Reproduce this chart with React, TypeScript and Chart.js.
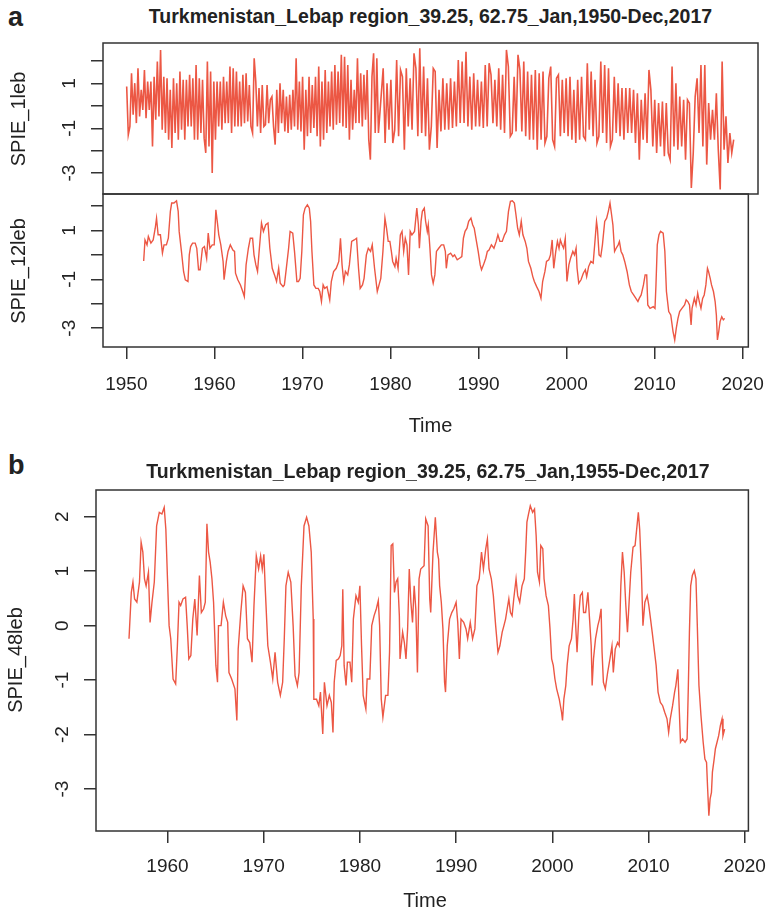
import React, { useEffect, useRef } from 'react';
import { Chart, registerables } from 'chart.js';

Chart.register(...registerables);

const FONT = '"Liberation Sans", Arial, Helvetica, sans-serif';
const INK = '#222222';
const AXIS = '#333333';
const LINE = '#EC5744';

// ---------- SPIE_1 (monthly noise, read as alternating stroke ends) ----------
const spie1EarlyStart = 1950.0;
const spie1EarlyEnd = 1978.17;
const spie1Early = [
  0.86, -1.29, -0.92, 1.45, -0.4, 1.01, -0.77, 1.67, -0.47, 0.71,
  -0.18, 1.6, -0.55, 1.08, -0.18, 1.08, -1.81, 1.3, -0.62, 1.97,
  -0.47, 2.49, -1.07, 1.3, -1.21, 1.23, -1.51, 0.71, -1.88, 1.23,
  -1.21, 1.01, -1.51, 1.53, -1.07, 1.16, -1.51, 1.16, -0.92, 1.38,
  -0.92, 1.23, -1.51, 1.82, -1.51, 1.23, -1.21, 1.16, -1.44, -2.1,
  1.97, -1.81, 1.53, -2.99, 1.08, -1.51, 1.08, -0.92, 1.08, -1.07,
  1.3, -0.77, 1.08, -0.77, 1.75, -1.21, 1.67, -0.92, 1.53, -0.92,
  1.08, -0.92, 1.38, -0.77, 1.45, -0.7, 0.93, -0.92, -1.21, 2.12,
  1.08, -0.92, 0.79, -1.21, 0.93, -0.92, -0.84, 0.93, -0.77, 0.27,
  0.41, -0.92, -1.73, 0.71, -1.21, 1.01, -0.77, 0.71, -1.14, 0.41,
  -1.21, 0.49, -1.07, 0.71, -0.92, 2.12, -1.07, 1.08, -1.14, 1.3,
  -1.96, 0.71, -1.36, 1.3, -1.21, 0.93, -0.99, 1.3, -1.36, 1.75,
  -1.81, 1.08, -1.51, 1.6, -1.21, 1.08, -0.92, 1.53, -1.07, 1.82,
  -0.84, 1.53, -0.77, 2.27, -0.92, 2.19, -0.99, 1.82, -1.51, 1.16,
  -1.07, 0.71, -0.77, 2.12, -0.77, 1.45, -0.92, 1.38, -0.62, 1.6,
  -1.51, -2.4, 1.3, 2.34, -1.21, 2.12, -1.21,
];
const spie1LateStart = 1978.7;
const spie1LateEnd = 2017.92;
const spie1Late = [
  1.67, -1.66, 1.01, -1.07, 1.16, -1.66, -1.07, 2.04, -1.36, 1.6,
  1.3, -1.96, 1.67, -0.92, 1.23, -1.07, 2.34, 1.67, -1.36, 2.56,
  -1.21, 1.75, -1.36, 1.23, -1.96, -0.92, 1.67, 1.53, -1.88, 0.71,
  -1.14, 1.23, -1.07, 1.01, -1.07, 1.23, -0.99, 1.08, -0.92, 2.04,
  -0.77, 1.97, -0.77, 2.41, -0.92, 1.3, -1.07, 1.45, -0.92, 1.16,
  -0.92, 1.08, -0.99, 1.82, -0.92, 1.9, 1.38, -0.77, 1.16, -0.92,
  1.67, -1.07, 1.38, -1.21, 2.49, 1.75, -1.36, -1.21, 1.3, -1.14,
  2.27, 1.6, -1.14, 1.97, -1.36, 1.53, -1.51, 1.38, -1.51, 1.6,
  -1.96, 1.45, -1.51, 1.53, -1.66, -1.36, 1.23, 1.75, -1.51, -1.81,
  1.23, 1.38, -1.36, 1.16, -1.21, 1.23, -1.36, 1.3, -1.51, 0.71,
  -1.66, 1.16, -1.51, 1.3, -1.36, -1.51, 1.9, -1.07, 1.53, -1.36,
  1.16, -1.66, -1.36, 1.97, -1.21, 1.82, -1.66, 1.67, -1.81, -1.51,
  1.3, -1.21, 1.01, -1.36, 0.79, -1.51, 0.79, -1.21, 0.79, -1.21,
  0.71, -1.66, 0.56, -2.4, 0.27, -1.51, 0.56, -1.66, 1.6, 0.71,
  -1.81, 0.27, -2.1, 0.12, -1.81, 0.19, -2.25, 0.12, -2.1, -2.4,
  1.75, -1.81, 1.01, -1.96, 0.41, -1.81, 0.27, -2.4, 0.27, 0.12,
  -3.66, -2.1, 0.41, 1.23, -1.21, 1.82, -1.81, 1.82, -2.62, 0.12,
  -1.51, -0.18, -1.51, 0.56, -1.96, -3.73, 1.97, -1.96, -0.47, -2.55,
  -1.21, -2.1, -1.51,
];

// ---------- SPIE_12 ----------
const spie12Years = [
  1951.97, 1952.12, 1952.35, 1952.5, 1952.79, 1953.05, 1953.28, 1953.43, 1953.61, 1953.87,
  1954.1, 1954.28, 1954.55, 1954.77, 1955.0, 1955.15, 1955.41, 1955.7, 1955.89, 1956.0,
  1956.26, 1956.5, 1956.7, 1957.0, 1957.15, 1957.3, 1957.52, 1957.82, 1958.0, 1958.2,
  1958.38, 1958.64, 1958.87, 1959.12, 1959.3, 1959.49, 1959.76, 1959.98, 1960.17, 1960.35,
  1960.5, 1960.73, 1960.99, 1961.1, 1961.36, 1961.55, 1961.81, 1962.1, 1962.29, 1962.4,
  1962.66, 1962.96, 1963.22, 1963.4, 1963.6, 1963.86, 1964.08, 1964.34, 1964.5, 1964.71,
  1964.9, 1965.08, 1965.35, 1965.57, 1965.83, 1966.09, 1966.3, 1966.57, 1966.83, 1967.06,
  1967.3, 1967.48, 1967.8, 1967.95, 1968.17, 1968.43, 1968.6, 1968.9, 1969.1, 1969.37,
  1969.55, 1969.74, 1969.93, 1970.11, 1970.3, 1970.56, 1970.78, 1970.93, 1971.08, 1971.3,
  1971.53, 1971.79, 1971.97, 1972.16, 1972.35, 1972.53, 1972.79, 1973.1, 1973.28, 1973.54,
  1973.84, 1974.13, 1974.32, 1974.5, 1974.69, 1974.88, 1975.14, 1975.33, 1975.59, 1975.88,
  1976.15, 1976.37, 1976.56, 1976.82, 1977.0, 1977.26, 1977.48, 1977.74, 1977.93, 1978.19,
  1978.5, 1978.7, 1978.9, 1979.14, 1979.37, 1979.55, 1979.74, 1979.93, 1980.1, 1980.25,
  1980.5, 1980.64, 1980.86, 1981.12, 1981.31, 1981.5, 1981.68, 1981.87, 1982.05, 1982.24,
  1982.43, 1982.73, 1982.99, 1983.17, 1983.28, 1983.47, 1983.62, 1983.84, 1983.99, 1984.18,
  1984.29, 1984.48, 1984.66, 1984.85, 1985.04, 1985.22, 1985.48, 1985.78, 1986.04, 1986.23,
  1986.34, 1986.53, 1986.83, 1987.09, 1987.28, 1987.58, 1987.84, 1988.1, 1988.28, 1988.47,
  1988.69, 1988.88, 1989.14, 1989.33, 1989.51, 1989.7, 1989.96, 1990.19, 1990.34, 1990.56,
  1990.82, 1991.0, 1991.19, 1991.46, 1991.75, 1992.01, 1992.2, 1992.43, 1992.69, 1992.95,
  1993.17, 1993.4, 1993.62, 1993.84, 1994.07, 1994.25, 1994.44, 1994.63, 1994.85, 1995.04,
  1995.3, 1995.49, 1995.67, 1995.94, 1996.16, 1996.34, 1996.6, 1996.87, 1997.09, 1997.28,
  1997.54, 1997.72, 1997.98, 1998.17, 1998.36, 1998.54, 1998.77, 1998.96, 1999.14, 1999.29,
  1999.48, 1999.66, 1999.85, 2000.04, 2000.26, 2000.45, 2000.71, 2000.9, 2001.08, 2001.19,
  2001.38, 2001.64, 2001.9, 2002.13, 2002.28, 2002.5, 2002.76, 2003.02, 2003.25, 2003.4,
  2003.5, 2003.69, 2003.88, 2004.07, 2004.33, 2004.55, 2004.74, 2004.93, 2005.11, 2005.26,
  2005.45, 2005.63, 2005.86, 2006.0, 2006.19, 2006.38, 2006.6, 2006.87, 2007.13, 2007.35,
  2007.61, 2007.87, 2008.1, 2008.25, 2008.47, 2008.73, 2008.92, 2009.1, 2009.22, 2009.48,
  2009.85, 2010.04, 2010.15, 2010.3, 2010.49, 2010.67, 2010.97, 2011.16, 2011.34, 2011.6,
  2011.83, 2012.09, 2012.28, 2012.46, 2012.65, 2012.84, 2013.1, 2013.4, 2013.58, 2013.77,
  2013.96, 2014.14, 2014.25, 2014.51, 2014.7, 2014.89, 2015.07, 2015.26, 2015.45, 2015.63,
  2015.82, 2016.0, 2016.12, 2016.31, 2016.46, 2016.68, 2016.87, 2017.01, 2017.13, 2017.28,
  2017.43, 2017.62, 2017.8, 2017.95,
];
const spie12Values = [
  -0.25, 0.61, 0.41, 0.75, 0.48, 0.61, 1.09, 1.5, 0.82, 0.82,
  0.07, 0.41, 0.41, 0.68, 1.78, 2.12, 2.12, 2.21, 1.78, 0.96,
  0.14, -0.68, -1.02, -1.09, 0, 0.34, 0.48, 0.48, 0.27, -0.61,
  -0.61, 0.27, 0.34, -0.14, 0.89, 0.27, 0.41, 0.41, 1.84, 1.3,
  0.82, 0.41, -0.27, -1.02, -0.27, 0.14, 0.41, 0.2, 0.14, -0.75,
  -1.02, -1.23, -1.5, -1.71, -0.41, 0.27, 0.68, 0.68, 0, -0.41,
  -0.68, 0.14, 1.3, 0.96, 1.23, 1.3, 0.27, -0.55, -0.82, -1.09,
  -0.55, -1.16, -1.3, -1.23, -0.55, 0.27, 0.96, 0.89, 0.14, -1.09,
  -1.09, -0.96, 0.14, 1.64, 1.91, 2.05, 1.91, 1.37, 0.14, -1.23,
  -1.37, -1.37, -1.5, -1.91, -1.23, -1.37, -1.3, -1.84, -1.09, -0.68,
  -0.55, -0.27, 0.68, -0.41, -1.09, -0.68, -0.82, -0.41, 0.55, 0.61,
  0.68, -0.55, -1.37, -1.23, -0.96, 0, 0.27, 0.14, 0.41, -0.55,
  -1.5, -1.23, -0.96, 0.14, 1.5, 1.09, 0.55, 0.55, 0.14, -0.27,
  -0.48, -0.14, -0.55, 0.82, 0.96, 0.14, 0.68, 0.41, -0.82, 0.96,
  0.82, 0.96, 1.91, 1.23, 0.27, 1.37, 1.78, 1.91, 1.37, 0.96,
  1.23, 0.27, -0.82, -1.16, -0.82, 0.14, 0.27, 0.41, 0.41, 0.14,
  -0.55, 0, 0.07, -0.07, 0, -0.2, -0.14, -0.07, 0.68, 0.96,
  1.09, 1.37, 1.5, 1.23, 1.09, 0.68, 0.14, -0.41, -0.61, -0.41,
  -0.14, 0.14, 0.2, 0.41, 0.27, 0.55, 0.82, 0.55, 0.55, 0.82,
  0.96, 1.78, 2.19, 2.21, 2.12, 1.64, 1.09, 0.82, 1.37, 0.82,
  0.55, 0.27, -0.27, -0.55, -0.89, -1.09, -1.3, -1.5, -1.78, -1.09,
  -0.68, -0.27, -0.2, 0, 0.61, -0.55, 0.14, 0.55, 0.27, 0.61,
  0.41, 0.27, 0.68, -1.09, -0.41, -0.14, 0.14, 0, 0.27, -0.55,
  -1.16, -1.02, -0.75, -0.61, -0.89, -0.48, -0.27, -0.34, 0.68, 1.37,
  1.09, 0, -0.07, 0.41, 1.37, 1.5, 1.78, 2.12, 1.64, 1.23,
  0.14, 0.27, 0.41, 0.55, 0.14, 0, -0.27, -0.68, -1.23, -1.5,
  -1.64, -1.78, -1.91, -1.78, -1.64, -1.23, -0.82, -0.82, -2.05, -2.19,
  -2.12, -2.19, -1.23, 0.41, 0.82, 0.96, 0.89, 0.14, -1.5, -2.32,
  -2.46, -3.14, -3.48, -3.0, -2.6, -2.32, -2.19, -2.05, -1.84, -1.91,
  -2.05, -2.87, -2.19, -1.78, -2.05, -1.57, -1.91, -2.19, -1.78, -1.64,
  -1.23, -0.55, -0.68, -0.96, -1.23, -1.5, -1.91, -2.46, -3.48, -3.14,
  -2.73, -2.53, -2.66, -2.6,
];

// ---------- SPIE_48 ----------
const spie48Years = [
  1956.0, 1956.24, 1956.41, 1956.58, 1956.82, 1957.09, 1957.26, 1957.44, 1957.61, 1957.78,
  1958.02, 1958.19, 1958.39, 1958.63, 1958.87, 1959.15, 1959.42, 1959.66, 1959.83, 1960.0,
  1960.17, 1960.34, 1960.58, 1960.85, 1961.03, 1961.2, 1961.37, 1961.61, 1961.88, 1962.05,
  1962.22, 1962.43, 1962.63, 1962.84, 1963.08, 1963.32, 1963.52, 1963.76, 1963.93, 1964.1,
  1964.27, 1964.44, 1964.62, 1964.79, 1965.03, 1965.2, 1965.3, 1965.57, 1965.81, 1966.05,
  1966.26, 1966.39, 1966.67, 1967.01, 1967.21, 1967.35, 1967.62, 1967.86, 1968.1, 1968.31,
  1968.55, 1968.79, 1968.99, 1969.23, 1969.47, 1969.68, 1969.85, 1970.02, 1970.15, 1970.43,
  1970.7, 1970.94, 1971.18, 1971.45, 1971.73, 1971.97, 1972.14, 1972.31, 1972.55, 1972.82,
  1973.06, 1973.26, 1973.5, 1973.68, 1973.91, 1974.19, 1974.46, 1974.7, 1974.94, 1975.15,
  1975.21, 1975.49, 1975.73, 1975.9, 1976.14, 1976.31, 1976.58, 1976.82, 1977.03, 1977.2,
  1977.33, 1977.54, 1977.78, 1977.95, 1978.12, 1978.22, 1978.36, 1978.56, 1978.7, 1978.97,
  1979.15, 1979.32, 1979.59, 1979.83, 1980.0, 1980.17, 1980.34, 1980.62, 1980.75, 1981.03,
  1981.23, 1981.47, 1981.71, 1981.91, 1982.05, 1982.22, 1982.39, 1982.67, 1982.91, 1983.08,
  1983.25, 1983.42, 1983.59, 1983.76, 1983.93, 1984.1, 1984.17, 1984.44, 1984.62, 1984.79,
  1984.96, 1985.13, 1985.3, 1985.47, 1985.64, 1985.81, 1985.98, 1986.15, 1986.32, 1986.67,
  1986.84, 1987.09, 1987.26, 1987.36, 1987.6, 1987.84, 1988.05, 1988.18, 1988.29, 1988.46,
  1988.63, 1988.8, 1988.9, 1989.08, 1989.32, 1989.55, 1989.76, 1990.0, 1990.17, 1990.34,
  1990.51, 1990.79, 1991.03, 1991.2, 1991.47, 1991.71, 1991.95, 1992.16, 1992.4, 1992.64,
  1992.84, 1993.08, 1993.25, 1993.42, 1993.66, 1993.87, 1994.11, 1994.35, 1994.55, 1994.79,
  1994.97, 1995.14, 1995.31, 1995.48, 1995.65, 1995.82, 1995.99, 1996.23, 1996.4, 1996.61,
  1996.85, 1997.09, 1997.23, 1997.36, 1997.53, 1997.71, 1997.95, 1998.15, 1998.32, 1998.46,
  1998.66, 1998.8, 1999.01, 1999.14, 1999.35, 1999.59, 1999.76, 1999.93, 2000.1, 2000.27,
  2000.45, 2000.72, 2000.96, 2001.06, 2001.2, 2001.4, 2001.54, 2001.75, 2001.99, 2002.16,
  2002.29, 2002.43, 2002.57, 2002.77, 2002.91, 2003.12, 2003.25, 2003.46, 2003.7, 2003.87,
  2004.04, 2004.14, 2004.28, 2004.49, 2004.73, 2004.9, 2005.07, 2005.17, 2005.31, 2005.51,
  2005.75, 2005.99, 2006.2, 2006.34, 2006.54, 2006.78, 2006.95, 2007.12, 2007.29, 2007.47,
  2007.64, 2007.81, 2007.98, 2008.15, 2008.39, 2008.6, 2008.84, 2008.94, 2009.08, 2009.25,
  2009.42, 2009.62, 2009.86, 2010.03, 2010.21, 2010.38, 2010.55, 2010.79, 2010.99, 2011.23,
  2011.47, 2011.68, 2011.92, 2012.09, 2012.26, 2012.5, 2012.71, 2012.84, 2013.05, 2013.18,
  2013.32, 2013.53, 2013.8, 2014.01, 2014.14, 2014.25, 2014.38, 2014.55, 2014.76, 2014.93,
  2015.07, 2015.24, 2015.45, 2015.68, 2015.86, 2016.03, 2016.13, 2016.27, 2016.4, 2016.54,
  2016.64, 2016.82, 2016.95, 2017.12, 2017.29, 2017.47, 2017.64, 2017.74, 2017.91,
];
const spie48Values = [
  -0.24, 0.61, 0.8, 0.49, 0.43, 0.8, 1.53, 1.35, 0.86, 0.73,
  0.98, 0.06, 0.43, 0.8, 1.83, 2.08, 2.05, 2.17, 1.77, 0.86,
  0, -0.24, -0.98, -1.07, -0.37, 0.43, 0.37, 0.49, 0.52, 0,
  -0.61, -0.55, 0.12, 0.49, -0.18, 0.92, 0.24, 0.31, 0.43, 1.87,
  1.35, 1.16, 0.86, 0.43, -0.73, -1.04, 0, 0, 0.43, 0.18,
  0.06, -0.86, -0.98, -1.16, -1.74, -0.43, 0.24, 0.73, 0.61, -0.24,
  -0.31, -0.67, 0.37, 1.28, 1.04, 1.28, 1.04, 1.31, 0.73, -0.37,
  -0.67, -0.98, -0.49, -1.04, -1.28, -1.04, -0.24, 0.73, 0.98, 0.8,
  0, -0.92, -1.1, -0.86, 0.73, 1.83, 1.99, 1.83, 1.35, 0.12,
  -1.35, -1.35, -1.47, -1.22, -1.99, -1.04, -1.47, -1.28, -1.41, -1.96,
  -1.04, -0.64, -0.61, -0.55, -0.37, 0.67, -0.73, -1.1, -0.67, -0.67,
  -1.04, 0.12, 0.55, 0.43, 0.73, -0.37, -1.28, -1.53, -0.98, -0.98,
  0, 0.18, 0.31, 0.46, 0, -1.35, -1.68, -1.28, -1.28, -0.49,
  1.47, 1.5, 0.61, 0.8, 0.86, 0.18, -0.61, -0.12, -0.31, -0.61,
  -0.06, 1.04, 0.43, 0.06, 0.73, 0.31, -0.86, 0.86, 1.04, 1.1,
  1.96, 1.83, 0.49, 0.24, 1.35, 1.99, 1.35, 1.22, 0.73, 0.43,
  -0.06, -1.04, -1.22, -0.37, 0.12, 0.24, 0.31, 0.43, 0.06, -0.61,
  0.12, 0.06, -0.06, -0.24, 0.06, -0.24, -0.06, 0.73, 0.86, 1.35,
  1.04, 1.41, 1.59, 1.04, 0.86, 0.55, 0, -0.49, -0.37, -0.12,
  0, 0.12, 0.31, 0.49, 0.24, 0.18, 0.49, 0.86, 0.55, 0.43,
  0.73, 0.86, 1.35, 1.9, 2.05, 2.2, 2.08, 2.14, 1.65, 0.98,
  0.8, 1.47, 1.41, 0.86, 0.55, 0.37, -0.06, -0.61, -0.73, -0.98,
  -1.16, -1.35, -1.59, -1.74, -1.35, -1.1, -0.73, -0.37, -0.24, 0.12,
  0.58, 0, -0.49, 0.24, 0.55, 0.61, 0.24, 0.24, 0.61, 0.12,
  -0.37, -1.1, -0.61, -0.24, 0, 0.12, 0.31, -0.49, -1.04, -1.16,
  -0.86, -0.61, -0.37, -0.86, -0.43, -0.31, -0.37, 0.73, 1.35, 0.98,
  0.37, -0.12, 0.43, 0.98, 1.44, 1.47, 1.9, 2.08, 1.77, 1.04,
  0, 0.43, 0.55, 0.37, 0.12, -0.12, -0.37, -0.73, -1.22, -1.41,
  -1.47, -1.59, -1.71, -1.96, -1.71, -1.47, -1.22, -1.1, -0.8, -1.47,
  -2.14, -2.08, -2.14, -2.08, -1.1, -0.12, 0.73, 0.92, 1.01, 0.86,
  0, -1.1, -1.65, -2.14, -2.45, -2.51, -2.94, -3.49, -3.18, -3.06,
  -2.69, -2.45, -2.26, -2.14, -2.02, -1.83, -1.71, -2.02, -1.9,
];

// ---------- axes ----------
const xTicksA = [1950, 1960, 1970, 1980, 1990, 2000, 2010, 2020];
const xTicksB = [1960, 1970, 1980, 1990, 2000, 2010, 2020];
const yTickMarks = [-3, -2, -1, 0, 1, 2];
const yLabelsA = [-3, -1, 1];
const yLabelsB = [-3, -2, -1, 0, 1, 2];

const titleA = 'Turkmenistan_Lebap region_39.25, 62.75_Jan,1950-Dec,2017';
const titleB = 'Turkmenistan_Lebap region_39.25, 62.75_Jan,1955-Dec,2017';

type Pt = { x: number; y: number };

function pairPoints(years: number[], values: number[]): Pt[] {
  return values.map((v, i) => ({ x: years[i], y: v }));
}
function evenPoints(values: number[], start: number, end: number): Pt[] {
  const step = (end - start) / (values.length - 1);
  return values.map((v, i) => ({ x: start + i * step, y: v }));
}

interface Spec {
  points: Pt[];
  xMin: number; xMax: number; yMin: number; yMax: number;
  xTicks: number[]; showX: boolean;
  yLabels: number[]; labelOffset: number;
  yAxisWidth: number; xAxisHeight: number;
  padding: { top: number; right: number; bottom: number; left: number };
  lineWidth: number; xLabelPad: number;
}

function buildChart(canvas: HTMLCanvasElement, s: Spec) {
  const frame = {
    id: 'frame',
    afterDraw(chart: any) {
      const { ctx, chartArea: a } = chart;
      ctx.save();
      ctx.strokeStyle = AXIS;
      ctx.lineWidth = 1.5;
      ctx.strokeRect(a.left, a.top, a.right - a.left, a.bottom - a.top);
      const ys = chart.scales.y;
      const size = 19;
      ctx.fillStyle = INK;
      ctx.font = `${size}px ${FONT}`;
      ctx.textAlign = 'center';
      ctx.textBaseline = 'alphabetic';
      for (const v of s.yLabels) {
        const py = ys.getPixelForValue(v);
        ctx.save();
        ctx.translate(a.left - s.labelOffset, py);
        ctx.rotate(-Math.PI / 2);
        ctx.fillText(String(v), 0, 0.358 * size);
        ctx.restore();
      }
      ctx.restore();
    },
  };
  return new Chart(canvas, {
    type: 'line',
    data: {
      datasets: [{
        data: s.points,
        borderColor: LINE,
        borderWidth: s.lineWidth,
        pointRadius: 0,
        tension: 0,
        fill: false,
      }],
    },
    options: {
      animation: false,
      responsive: false,
      layout: { padding: s.padding },
      plugins: { legend: { display: false }, tooltip: { enabled: false }, title: { display: false } },
      scales: {
        x: {
          type: 'linear',
          min: s.xMin, max: s.xMax,
          display: s.showX,
          afterBuildTicks: (sc: any) => { sc.ticks = s.xTicks.map((v) => ({ value: v })); },
          ticks: {
            callback: (v: any) => String(v),
            font: { size: 19, family: FONT },
            color: INK,
            padding: s.xLabelPad,
            maxRotation: 0, minRotation: 0, autoSkip: false,
          },
          grid: { drawOnChartArea: false, drawTicks: true, tickLength: 12, color: AXIS, lineWidth: 1.5 },
          border: { display: false },
          afterFit: (sc: any) => { sc.height = s.xAxisHeight; },
        },
        y: {
          type: 'linear',
          min: s.yMin, max: s.yMax,
          afterBuildTicks: (sc: any) => { sc.ticks = yTickMarks.map((v) => ({ value: v })); },
          ticks: { callback: () => '', padding: 0 },
          grid: { drawOnChartArea: false, drawTicks: true, tickLength: 12, color: AXIS, lineWidth: 1.5 },
          border: { display: false },
          afterFit: (sc: any) => { sc.width = s.yAxisWidth; },
        },
      },
    } as any,
    plugins: [frame],
  });
}

const abs = (extra: React.CSSProperties): React.CSSProperties => ({
  position: 'absolute', margin: 0, color: INK, fontFamily: FONT, lineHeight: 1, whiteSpace: 'nowrap', ...extra,
});

function RotLabel({ text, cx, cy, size }: { text: string; cx: number; cy: number; size: number }) {
  return (
    <div style={abs({ left: cx, top: cy, fontSize: size, transform: 'translate(-50%, -50%) rotate(-90deg)' })}>{text}</div>
  );
}

export default function App() {
  const refA1 = useRef<HTMLCanvasElement>(null);
  const refA2 = useRef<HTMLCanvasElement>(null);
  const refB = useRef<HTMLCanvasElement>(null);

  useEffect(() => {
    document.body.style.margin = '0';
    const spie1Points = [
      ...evenPoints(spie1Early, spie1EarlyStart, spie1EarlyEnd),
      ...evenPoints(spie1Late, spie1LateStart, spie1LateEnd),
    ];
    const c1 = buildChart(refA1.current!, {
      points: spie1Points,
      xMin: 1947.35, xMax: 2020.64, yMin: -3.93, yMax: 2.8,
      xTicks: xTicksA, showX: false, yLabels: yLabelsA, labelOffset: 35,
      yAxisWidth: 103, xAxisHeight: 0,
      padding: { top: 10, right: 20, bottom: 11, left: 0 },
      lineWidth: 1.6, xLabelPad: 14,
    });
    const c2 = buildChart(refA2.current!, {
      points: pairPoints(spie12Years, spie12Values),
      xMin: 1947.35, xMax: 2020.64, yMin: -3.77, yMax: 2.49,
      xTicks: xTicksA, showX: true, yLabels: yLabelsA, labelOffset: 35,
      yAxisWidth: 103, xAxisHeight: 88,
      padding: { top: 10, right: 20, bottom: 0, left: 0 },
      lineWidth: 1.4, xLabelPad: 14,
    });
    const c3 = buildChart(refB.current!, {
      points: pairPoints(spie48Years, spie48Values),
      xMin: 1952.57, xMax: 2020.38, yMin: -3.77, yMax: 2.49,
      xTicks: xTicksB, showX: true, yLabels: yLabelsB, labelOffset: 34.5,
      yAxisWidth: 96, xAxisHeight: 80,
      padding: { top: 10, right: 22, bottom: 0, left: 0 },
      lineWidth: 1.4, xLabelPad: 12,
    });
    return () => { c1.destroy(); c2.destroy(); c3.destroy(); };
  }, []);

  return (
    <div style={{ position: 'relative', width: 778, height: 911, background: '#fff', overflow: 'hidden' }}>
      <canvas ref={refA1} width={778} height={172} style={{ position: 'absolute', left: 0, top: 33, width: 778, height: 172 }} />
      <canvas ref={refA2} width={778} height={251} style={{ position: 'absolute', left: 0, top: 184, width: 778, height: 251 }} />
      <canvas ref={refB} width={778} height={431} style={{ position: 'absolute', left: 0, top: 480, width: 778, height: 431 }} />

      <div style={abs({ left: 8, top: 4, fontSize: 27, fontWeight: 700 })}>a</div>
      <div style={abs({ left: 8, top: 452, fontSize: 27, fontWeight: 700 })}>b</div>

      <div style={abs({ left: 430.5, top: 6.5, fontSize: 19.5, fontWeight: 700, transform: 'translateX(-50%)' })}>{titleA}</div>
      <div style={abs({ left: 428, top: 461.5, fontSize: 19.5, fontWeight: 700, transform: 'translateX(-50%)' })}>{titleB}</div>

      <div style={abs({ left: 430.5, top: 415, fontSize: 20, transform: 'translateX(-50%)' })}>Time</div>
      <div style={abs({ left: 425, top: 890, fontSize: 20, transform: 'translateX(-50%)' })}>Time</div>

      <RotLabel text="SPIE_1leb" cx={17.5} cy={119} size={20} />
      <RotLabel text="SPIE_12leb" cx={17.5} cy={271} size={20} />
      <RotLabel text="SPIE_48leb" cx={15} cy={660} size={20} />
    </div>
  );
}
